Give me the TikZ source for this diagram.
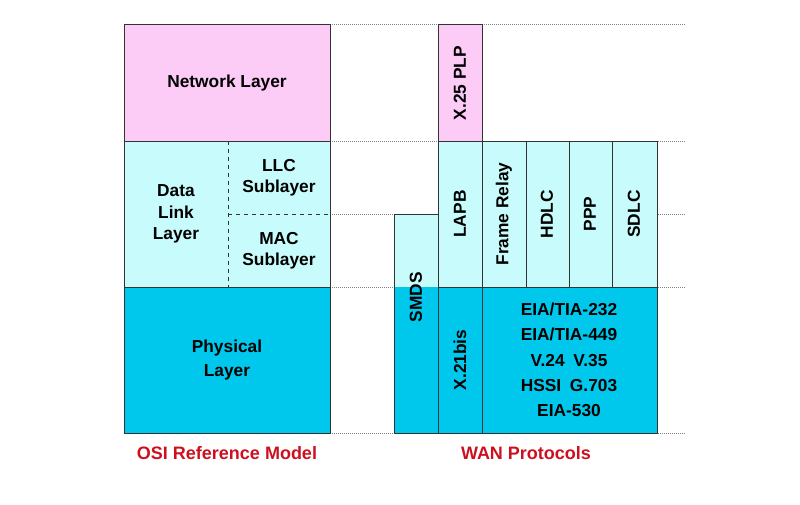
\documentclass[tikz,border=0pt]{standalone}
\usepackage{fontspec}
\setmainfont{Liberation Sans}
\begin{document}
\begin{tikzpicture}[x=0.75pt,y=-0.75pt,
  box/.style={draw=black!80,line width=0.6pt},
  pinkb/.style={box,fill=pinkc},
  ltb/.style={box,fill=ltc},
  cyb/.style={box,fill=cyc},
  lbl/.style={font=\fontsize{13}{15}\selectfont\bfseries,align=center,inner sep=0pt},
  vl/.style={lbl,rotate=90},
  dot/.style={densely dotted,gray,line width=0.5pt},
  captxt/.style={font=\fontsize{13.5}{15}\selectfont\bfseries,text=capc,inner sep=0pt}]
\definecolor{pinkc}{HTML}{FCCCF6}
\definecolor{ltc}{HTML}{C8FCFC}
\definecolor{cyc}{HTML}{00C8EC}
\definecolor{capc}{HTML}{CC1020}
\useasboundingbox (0,0) rectangle (800,504);
% dotted guide lines
\foreach \y in {24,141,214,287,433} \draw[dot] (330,\y) -- (686,\y);
% left column
\draw[pinkb] (124,24) rectangle (330,141);
\draw[ltb] (124,141) rectangle (330,287);
\draw[cyb] (124,287) rectangle (330,433);
\draw[dashed,black!80,line width=0.6pt] (228,141) -- (228,287) (228,214) -- (330,214);
\node[lbl] (net) at (227,83) {Network Layer};
\node[lbl] (dll) at (176,214) {Data\\[1pt]Link\\[1pt]Layer};
\node[lbl] (llc) at (279,178) {LLC\\[1pt]Sublayer};
\node[lbl] (mac) at (279,251) {MAC\\[1pt]Sublayer};
\node[lbl] (phy) at (227,360) {Physical\\[3pt]Layer};
% right side
\fill[ltc] (394,214) rectangle (438,287);
\fill[cyc] (394,287) rectangle (438,433);
\draw[box] (394,214) rectangle (438,433);
\draw[pinkb] (438,24) rectangle (482,141);
\draw[ltb] (438,141) rectangle (482,287);
\draw[cyb] (438,287) rectangle (482,433);
\draw[ltb] (482,141) rectangle (526,287);
\draw[ltb] (526,141) rectangle (569,287);
\draw[ltb] (569,141) rectangle (612,287);
\draw[ltb] (612,141) rectangle (657,287);
\draw[cyb] (482,287) rectangle (657,433);
\node[vl] (smds) at (416,297) {SMDS};
\node[vl] (x25) at (460,83) {X.25 PLP};
\node[vl] (lapb) at (460,214) {LAPB};
\node[vl] (x21) at (460,360) {X.21bis};
\node[vl] (fr) at (504,214) {Frame Relay};
\node[vl] (hdlc) at (547,214) {HDLC};
\node[vl] (ppp) at (590,214) {PPP};
\node[vl] (sdlc) at (634,214) {SDLC};
\node[lbl] (phys) at (569,360) {EIA/TIA-232\\[4pt]EIA/TIA-449\\[4pt]V.24\enspace V.35\\[4pt]HSSI\enspace G.703\\[4pt]EIA-530};
\node[captxt] (c1) at (227,453) {OSI Reference Model};
\node[captxt] (c2) at (526,453) {WAN Protocols};
\end{tikzpicture}
\end{document}
